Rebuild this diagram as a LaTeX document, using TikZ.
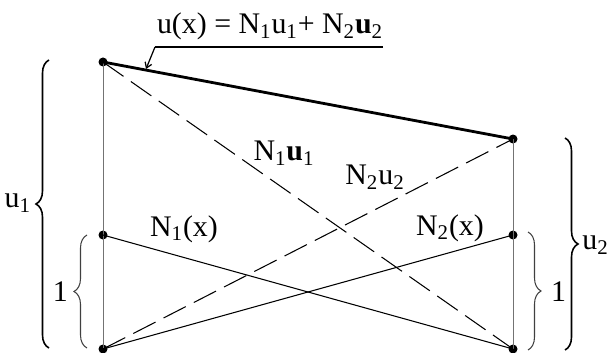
\documentclass[tikz,border=0pt]{standalone}
\usepackage{fontspec}
\setmainfont{Liberation Serif}
\usetikzlibrary{arrows.meta,decorations.pathreplacing}

\tikzset{
  dot/.style={circle, fill, inner sep=0pt, minimum size=0.18cm},
  lbl/.style={font=\fontsize{17}{20}\selectfont, inner sep=1pt},
  fnline/.style={line width=0.6pt},
  fndash/.style={line width=0.6pt, dash pattern=on 0.5cm off 0.18cm},
  bigbrace/.style={decorate, decoration={brace, amplitude=0.26cm}, line width=0.9pt},
  smallbrace/.style={decorate, decoration={brace, amplitude=0.26cm}, line width=0.6pt, black!75},
}

\begin{document}
\begin{tikzpicture}
    \useasboundingbox (0,0) rectangle (12.16,7.04);
    % Nodal points
    \node[dot] (lt) at (2.06,5.80) {};
    \node[dot] (lm) at (2.06,2.34) {};
    \node[dot] (lb) at (2.06,0.06) {};
    \node[dot] (rt) at (10.26,4.26) {};
    \node[dot] (rm) at (10.26,2.34) {};
    \node[dot] (rb) at (10.26,0.06) {};
    % Element edges
    \draw[black!55, line width=0.5pt] (lt.center) -- (lb.center);
    \draw[black!55, line width=0.5pt] (rt.center) -- (rb.center);
    % Interpolated field
    \draw[line width=1.6pt] (lt.center) -- (rt.center);
    % Weighted shape functions
    \draw[fndash] (lt.center) -- (rb.center);
    \draw[fndash] (lb.center) -- (rt.center);
    % Shape functions
    \draw[fnline] (lm.center) -- (rb.center);
    \draw[fnline] (lb.center) -- (rm.center);
    % Braces
    \draw[bigbrace] (0.98,0.08) -- (0.98,5.84);
    \draw[smallbrace] (1.74,0.08) -- (1.74,2.34);
    \draw[smallbrace] (10.56,2.40) -- (10.56,0.04);
    \draw[bigbrace] (11.30,4.28) -- (11.30,0.04);
    \node[lbl, anchor=east] (u1) at (0.66,2.98) {u\textsubscript{1}};
    \node[lbl, anchor=east] (one1) at (1.40,1.20) {1};
    \node[lbl, anchor=west] (one2) at (10.98,1.20) {1};
    \node[lbl, anchor=west, inner sep=0pt] (u2) at (11.64,2.14) {u\textsubscript{2}};
    % Labels of the lines
    \node[lbl] (n1u1) at (5.68,3.98) {N\textsubscript{1}\textbf{u}\textsubscript{1}};
    \node[lbl] (n2u2) at (7.50,3.50) {N\textsubscript{2}u\textsubscript{2}};
    \node[lbl] (n1x) at (3.68,2.46) {N\textsubscript{1}(x)};
    \node[lbl] (n2x) at (9.00,2.48) {N\textsubscript{2}(x)};
    % Title with leader
    \node[lbl, anchor=south] (title) at (5.40,6.20)
        {u(x) = N\textsubscript{1}u\textsubscript{1}+ N\textsubscript{2}\textbf{u}\textsubscript{2}};
    \coordinate (ul1) at (3.10,6.10);
    \coordinate (ul2) at (7.66,6.10);
    \coordinate (hit) at (2.92,5.66);
    \draw[line width=0.7pt] (ul2) -- (ul1);
    \draw[line width=0.7pt, -{Straight Barb[length=3pt,width=4pt]}] (ul1) -- (hit);
\end{tikzpicture}
\end{document}
